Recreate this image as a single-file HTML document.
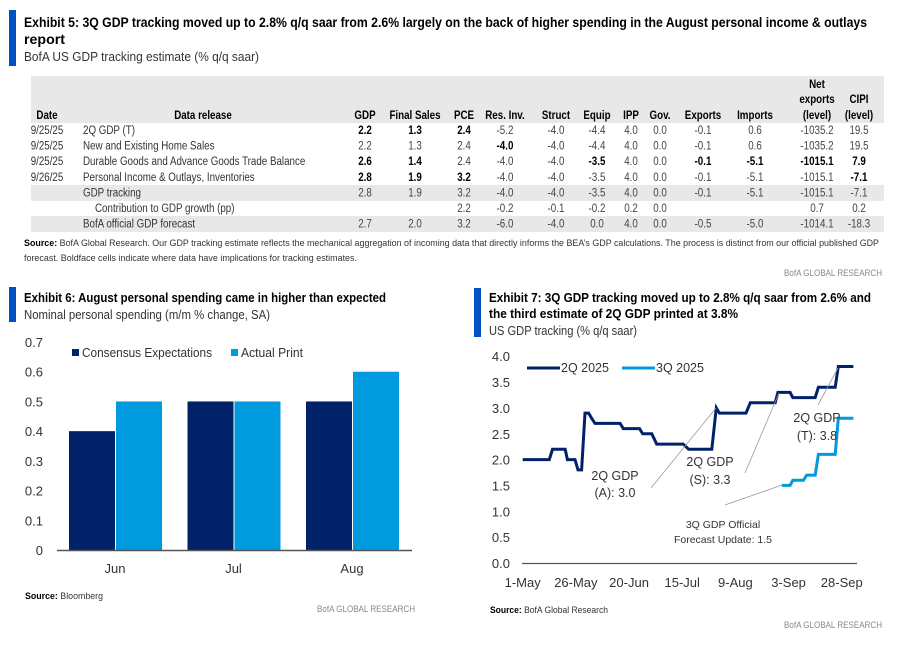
<!DOCTYPE html>
<html><head><meta charset="utf-8"><style>
body{margin:0;background:#fff;width:899px;height:655px;overflow:hidden}
svg{display:block;font-family:"Liberation Sans Narrow","Liberation Sans",sans-serif}
</style></head><body>
<svg id="s" width="899" height="655" viewBox="0 0 899 655">
<g>
<rect x="9" y="10" width="7" height="56" fill="#0052C2"/>
<text x="24" y="27" font-size="13.5" font-weight="bold" fill="#000" textLength="843" lengthAdjust="spacingAndGlyphs">Exhibit 5: 3Q GDP tracking moved up to 2.8% q/q saar from 2.6% largely on the back of higher spending in the August personal income &amp; outlays</text>
<text x="24" y="44" font-size="13.5" font-weight="bold" fill="#000" textLength="41" lengthAdjust="spacingAndGlyphs">report</text>
<text x="24" y="61" font-size="12.5" fill="#333" textLength="235" lengthAdjust="spacingAndGlyphs">BofA US GDP tracking estimate (% q/q saar)</text>
<rect x="31" y="76" width="853" height="47" fill="#e8e8e8"/>
<rect x="31" y="185" width="853" height="16" fill="#e8e8e8"/>
<rect x="31" y="216" width="853" height="16" fill="#e8e8e8"/>
<g id="tbl" font-size="11.5"></g>
<text x="24" y="246" font-size="8.8" fill="#333" textLength="855" lengthAdjust="spacingAndGlyphs"><tspan font-weight="bold" fill="#000">Source:</tspan> BofA Global Research. Our GDP tracking estimate reflects the mechanical aggregation of incoming data that directly informs the BEA’s GDP calculations. The process is distinct from our official published GDP</text>
<text x="24" y="261" font-size="8.8" fill="#333" textLength="333" lengthAdjust="spacingAndGlyphs">forecast. Boldface cells indicate where data have implications for tracking estimates.</text>
<text x="882" y="276" font-size="8.8" fill="#888" text-anchor="end" textLength="98" lengthAdjust="spacingAndGlyphs">BofA GLOBAL RESEARCH</text>
</g>
<g>
<rect x="9" y="287" width="7" height="35" fill="#0052C2"/>
<text x="24" y="302" font-size="12.5" font-weight="bold" textLength="362" lengthAdjust="spacingAndGlyphs">Exhibit 6: August personal spending came in higher than expected</text>
<text x="24" y="319" font-size="12.5" fill="#333" textLength="246" lengthAdjust="spacingAndGlyphs">Nominal personal spending (m/m % change, SA)</text>
<g id="bar"></g>
<rect x="72" y="349" width="7" height="7" fill="#012169"/>
<text x="82" y="357" font-size="12.5" fill="#333" textLength="130" lengthAdjust="spacingAndGlyphs">Consensus Expectations</text>
<rect x="231" y="349" width="7" height="7" fill="#009ADE"/>
<text x="241" y="357" font-size="12.5" fill="#333" textLength="62" lengthAdjust="spacingAndGlyphs">Actual Print</text>
<text x="25" y="599" font-size="8.8" fill="#333" textLength="78" lengthAdjust="spacingAndGlyphs"><tspan font-weight="bold" fill="#000">Source:</tspan> Bloomberg</text>
<text x="415" y="612" font-size="8.8" fill="#888" text-anchor="end" textLength="98" lengthAdjust="spacingAndGlyphs">BofA GLOBAL RESEARCH</text>
</g>
<g>
<rect x="474" y="288" width="7" height="49" fill="#0052C2"/>
<text x="489" y="302" font-size="12.5" font-weight="bold" textLength="382" lengthAdjust="spacingAndGlyphs">Exhibit 7: 3Q GDP tracking moved up to 2.8% q/q saar from 2.6% and</text>
<text x="489" y="318" font-size="12.5" font-weight="bold" textLength="249" lengthAdjust="spacingAndGlyphs">the third estimate of 2Q GDP printed at 3.8%</text>
<text x="489" y="335" font-size="12.5" fill="#333" textLength="148" lengthAdjust="spacingAndGlyphs">US GDP tracking (% q/q saar)</text>
<g id="line"></g>
<line x1="527" y1="368" x2="560" y2="368" stroke="#012169" stroke-width="3"/>
<text x="561" y="372" font-size="12.5" fill="#333">2Q 2025</text>
<line x1="622" y1="368" x2="655" y2="368" stroke="#009ADE" stroke-width="3"/>
<text x="656" y="372" font-size="12.5" fill="#333">3Q 2025</text>
<g font-size="12.5" fill="#333" text-anchor="middle">
<line x1="651" y1="488" x2="716" y2="408" stroke="#999" stroke-width="0.8"/>
<text x="615" y="480">2Q GDP</text><text x="615" y="497">(A): 3.0</text>
<line x1="745" y1="473" x2="779" y2="393" stroke="#999" stroke-width="0.8"/>
<text x="710" y="466">2Q GDP</text><text x="710" y="484">(S): 3.3</text>
<line x1="818" y1="405" x2="838" y2="368" stroke="#999" stroke-width="0.8"/>
<text x="817" y="422">2Q GDP</text><text x="817" y="440">(T): 3.8</text>
<line x1="725" y1="505" x2="782" y2="485" stroke="#999" stroke-width="0.8"/>
<text x="723" y="528" font-size="10.5">3Q GDP Official</text><text x="723" y="543" font-size="10.5">Forecast Update: 1.5</text>
</g>
<text x="490" y="613" font-size="8.8" fill="#333" textLength="118" lengthAdjust="spacingAndGlyphs"><tspan font-weight="bold" fill="#000">Source:</tspan> BofA Global Research</text>
<text x="882" y="628" font-size="8.8" fill="#888" text-anchor="end" textLength="98" lengthAdjust="spacingAndGlyphs">BofA GLOBAL RESEARCH</text>
</g>
</svg>
<script>
const NS="http://www.w3.org/2000/svg";
// ---- table data ----
const tHeaders=["GDP","Final Sales","PCE","Res. Inv.","Struct","Equip","IPP","Gov.","Exports","Imports"];
const tDates=["9/25/25","9/25/25","9/25/25","9/26/25","","",""];
const tReleases=["2Q GDP (T)","New and Existing Home Sales","Durable Goods and Advance Goods Trade Balance","Personal Income & Outlays, Inventories","GDP tracking","Contribution to GDP growth (pp)","BofA official GDP forecast"];
const tRows=[
["2.2","1.3","2.4","-5.2","-4.0","-4.4","4.0","0.0","-0.1","0.6","-1035.2","19.5"],
["2.2","1.3","2.4","-4.0","-4.0","-4.4","4.0","0.0","-0.1","0.6","-1035.2","19.5"],
["2.6","1.4","2.4","-4.0","-4.0","-3.5","4.0","0.0","-0.1","-5.1","-1015.1","7.9"],
["2.8","1.9","3.2","-4.0","-4.0","-3.5","4.0","0.0","-0.1","-5.1","-1015.1","-7.1"],
["2.8","1.9","3.2","-4.0","-4.0","-3.5","4.0","0.0","-0.1","-5.1","-1015.1","-7.1"],
["","","2.2","-0.2","-0.1","-0.2","0.2","0.0","","","0.7","0.2"],
["2.7","2.0","3.2","-6.0","-4.0","0.0","4.0","0.0","-0.5","-5.0","-1014.1","-18.3"]];
const tBold=[[0,1,2],[3],[0,1,5,8,9,10,11],[0,1,2,11],[],[],[]];
const colX=[365,415,464,505,556,597,631,660,703,755,817,859];
function tx(g,x,y,s,o){const t=document.createElementNS(NS,"text");t.setAttribute("x",x);t.setAttribute("y",y);t.textContent=s;for(const k in o)t.setAttribute(k,o[k]);g.appendChild(t);return t;}
const tbl=document.getElementById("tbl");
let h=tx(tbl,47,119,"Date",{"font-weight":"bold","text-anchor":"middle"});


h=tx(tbl,203,119,"Data release",{"font-weight":"bold","text-anchor":"middle"});


tHeaders.forEach((s,i)=>{const e=tx(tbl,colX[i],119,s,{"font-weight":"bold","text-anchor":"middle"});

});
tx(tbl,colX[10],88,"Net",{"font-weight":"bold","text-anchor":"middle"});
tx(tbl,colX[10],103,"exports",{"font-weight":"bold","text-anchor":"middle"});
tx(tbl,colX[10],119,"(level)",{"font-weight":"bold","text-anchor":"middle"});
tx(tbl,colX[11],103,"CIPI",{"font-weight":"bold","text-anchor":"middle"});
tx(tbl,colX[11],119,"(level)",{"font-weight":"bold","text-anchor":"middle"});
tRows.forEach((r,ri)=>{const y=134+ri*15.6;
 if(tDates[ri])tx(tbl,47,y,tDates[ri],{"text-anchor":"middle",fill:"#333"});
 const rl=tx(tbl,ri==5?95:83,y,tReleases[ri],{fill:"#333"});
 
 
 r.forEach((v,ci)=>{if(!v)return;const b=tBold[ri].includes(ci);
  const c=tx(tbl,colX[ci],y,v,{"text-anchor":"middle",fill:b?"#000":"#444","font-weight":b?"bold":"normal"});
  
  });});
// condense table text to mimic narrow font
tbl.querySelectorAll("text").forEach(t=>{const w=t.getComputedTextLength();if(w>0){t.setAttribute("textLength",(w*0.85).toFixed(1));t.setAttribute("lengthAdjust","spacingAndGlyphs");}});
// ---- bar chart ----
const barCats=["Jun","Jul","Aug"];
const barConsensus=[0.4,0.5,0.5];
const barActual=[0.5,0.5,0.6];
const barTicks=[0,0.1,0.2,0.3,0.4,0.5,0.6,0.7];
const bar=document.getElementById("bar");
const by=v=>550-v*297.1, bx=i=>115+i*118.5;
barTicks.forEach(t=>{const e=tx(bar,43,by(t)+5,String(t),{"text-anchor":"end","font-size":"13",fill:"#333"});

});
function rect(g,x,y,w,hh,f){const r=document.createElementNS(NS,"rect");r.setAttribute("x",x);r.setAttribute("y",y);r.setAttribute("width",w);r.setAttribute("height",hh);r.setAttribute("fill",f);g.appendChild(r);return r;}
barCats.forEach((c,i)=>{
 let r=rect(bar,bx(i)-46,by(barConsensus[i]),46,550-by(barConsensus[i]),"#012169");
 
 
 r=rect(bar,bx(i)+1,by(barActual[i]),46,550-by(barActual[i]),"#009ADE");
 
 
 const l=tx(bar,bx(i),573,c,{"text-anchor":"middle","font-size":"13",fill:"#333"});
 
 });
let ax=document.createElementNS(NS,"line");


ax.setAttribute("x1",57);ax.setAttribute("x2",412);ax.setAttribute("y1",550.5);ax.setAttribute("y2",550.5);ax.setAttribute("stroke","#555");ax.setAttribute("stroke-width","1.5");bar.appendChild(ax);
// ---- line chart ----
const lineTicksY=[0,0.5,1,1.5,2,2.5,3,3.5,4];
const lineTicksX=["1-May","26-May","20-Jun","15-Jul","9-Aug","3-Sep","28-Sep"];
const q2Days=[0,12.5,14,20,21,24.6,26,27.7,29.3,31,32.4,34,45.8,47.3,54.9,56.4,60.7,63,75.5,78,88.9,91,92.5,105,107,118.7,120,125.7,127,137.5,139,146.9,148.4,155.5];
const q2Vals=[2.0,2.0,2.2,2.2,2.0,2.0,1.8,1.8,2.9,2.9,2.8,2.7,2.7,2.6,2.6,2.5,2.5,2.3,2.3,2.2,2.2,3.0,2.9,2.9,3.1,3.1,3.3,3.3,3.2,3.2,3.4,3.4,3.8,3.8];
const q3Days=[121.8,125.7,127,132,133.5,137.5,139,146.9,148.4,155.5];
const q3Vals=[1.5,1.5,1.6,1.6,1.7,1.7,2.1,2.1,2.8,2.8];
const line=document.getElementById("line");
const lx=d=>522.7+d*2.127, ly=v=>563-v*51.7;
lineTicksY.forEach(t=>{const e=tx(line,510,ly(t)+5,t.toFixed(1),{"text-anchor":"end","font-size":"13",fill:"#333"});

});
lineTicksX.forEach((s,i)=>{const e=tx(line,lx(i*25),587,s,{"text-anchor":"middle","font-size":"13",fill:"#333"});

});
ax=document.createElementNS(NS,"line");


ax.setAttribute("x1",522);ax.setAttribute("x2",857);ax.setAttribute("y1",563.5);ax.setAttribute("y2",563.5);ax.setAttribute("stroke","#555");ax.setAttribute("stroke-width","1.2");line.appendChild(ax);
function pl(days,vals,col,name){const p=document.createElementNS(NS,"polyline");
 
 
 p.setAttribute("points",days.map((d,i)=>lx(d).toFixed(1)+","+ly(vals[i]).toFixed(1)).join(" "));
 p.setAttribute("fill","none");p.setAttribute("stroke",col);p.setAttribute("stroke-width","3");line.appendChild(p);}
pl(q2Days,q2Vals,"#012169","series-2q-2025");
pl(q3Days,q3Vals,"#009ADE","series-3q-2025");
</script>
</body></html>
